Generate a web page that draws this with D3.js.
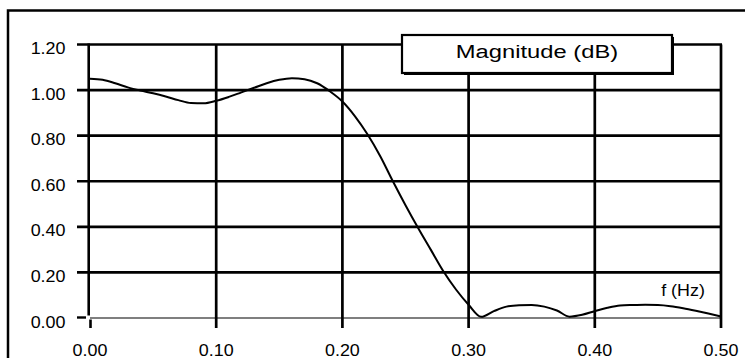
<!DOCTYPE html>
<html><head><meta charset="utf-8">
<script src="https://cdn.jsdelivr.net/npm/d3@7"></script>
<style>
body{margin:0;background:#fff}
svg{display:block}
text{font-family:"Liberation Sans",Arial,Helvetica,sans-serif;fill:#000}
</style>
</head><body>
<svg id="chart" width="745" height="358"></svg>
<script>
// ---- data ----
const freq = [0.00,0.01,0.02,0.03,0.04,0.05,0.06,0.07,0.08,0.09,
              0.10,0.11,0.12,0.13,0.14,0.15,0.16,0.17,0.18,0.19,
              0.20,0.21,0.22,0.23,0.24,0.25,0.26,0.27,0.28,0.29,
              0.30,0.31,0.32,0.33,0.34,0.35,0.36,0.37,0.38,0.39,
              0.40,0.41,0.42,0.43,0.44,0.45,0.46,0.47,0.48,0.49,0.50];
const magnitude = [1.050,1.045,1.030,1.012,0.998,0.986,0.972,0.956,0.943,0.942,
                   0.953,0.970,0.990,1.010,1.030,1.045,1.052,1.048,1.030,0.995,
                   0.950,0.885,0.805,0.710,0.600,0.495,0.395,0.300,0.205,0.125,
                   0.058,0.005,0.030,0.050,0.056,0.057,0.050,0.033,0.006,0.014,
                   0.030,0.045,0.055,0.057,0.058,0.057,0.052,0.043,0.032,0.020,0.007];
const xTicks = [0.00,0.10,0.20,0.30,0.40,0.50];
const yTicks = [0.00,0.20,0.40,0.60,0.80,1.00,1.20];
const titleText = "Magnitude (dB)";
const xAxisLabel = "f (Hz)";

// ---- drawing ----
const svg = d3.select("#chart");
const x = d3.scaleLinear().domain([0,0.5]).range([90,721]);
const y = d3.scaleLinear().domain([0,1.2]).range([318,44.5]);
const fmt = d3.format(".2f");

// outer frame (extends beyond window right/bottom)
svg.append("rect").attr("x",8).attr("y",10.5).attr("width",900).attr("height",500)
  .attr("fill","none").attr("stroke","#000").attr("stroke-width",2.5);

// horizontal grid lines (non-zero)
svg.append("g").selectAll("line").data(yTicks.filter(d=>d>0)).join("line")
  .attr("x1",77).attr("x2",x(0.5)+1).attr("y1",d=>y(d)).attr("y2",d=>y(d))
  .attr("stroke","#000").attr("stroke-width",2.6);

// zero line (thin)
svg.append("line").attr("x1",x(0)).attr("x2",x(0.5)).attr("y1",y(0)).attr("y2",y(0))
  .attr("stroke","#000").attr("stroke-width",1.1);
// zero tick on left
svg.append("line").attr("x1",77).attr("x2",86).attr("y1",y(0)-0.5).attr("y2",y(0)-0.5)
  .attr("stroke","#000").attr("stroke-width",2.4);

// y axis line
svg.append("line").attr("x1",88.7).attr("x2",88.7).attr("y1",y(1.2)-1).attr("y2",315.5)
  .attr("stroke","#000").attr("stroke-width",2.6);

// vertical grid lines (non-zero)
svg.append("g").selectAll("line").data(xTicks.filter(d=>d>0)).join("line")
  .attr("x1",d=>x(d)).attr("x2",d=>x(d)).attr("y1",y(1.2)).attr("y2",328)
  .attr("stroke","#000").attr("stroke-width",2.7);
// zero tick below
svg.append("line").attr("x1",x(0)+0.5).attr("x2",x(0)+0.5).attr("y1",319.5).attr("y2",328)
  .attr("stroke","#000").attr("stroke-width",2.6);

// curve
const line = d3.line().x((d,i)=>x(freq[i])).y(d=>y(d)).curve(d3.curveMonotoneX);
svg.append("path").attr("d",line(magnitude)).attr("fill","none")
  .attr("stroke","#000").attr("stroke-width",2);

// y tick labels
svg.append("g").selectAll("text").data(yTicks).join("text")
  .attr("text-anchor","end").attr("font-size",16)
  .attr("transform",d=>`translate(65.5,${y(d)+9.5}) scale(1.12,1)`)
  .text(d=>fmt(d));

// x tick labels
svg.append("g").selectAll("text").data(xTicks).join("text")
  .attr("text-anchor","middle").attr("font-size",16)
  .attr("transform",d=>`translate(${x(d)},355.5) scale(1.12,1)`)
  .text(d=>fmt(d));

// x axis label
svg.append("text").attr("text-anchor","middle").attr("font-size",16)
  .attr("transform","translate(683,295.5) scale(1.12,1)").text(xAxisLabel);

// title box with shadow
svg.append("rect").attr("x",404).attr("y",37).attr("width",270).attr("height",38).attr("fill","#000");
svg.append("rect").attr("x",402).attr("y",35).attr("width",270).attr("height",38)
  .attr("fill","#fff").attr("stroke","#000").attr("stroke-width",2.2);
svg.append("text").attr("text-anchor","middle").attr("font-size",18)
  .attr("transform","translate(537,58) scale(1.32,1)").text(titleText);
</script>
</body></html>
